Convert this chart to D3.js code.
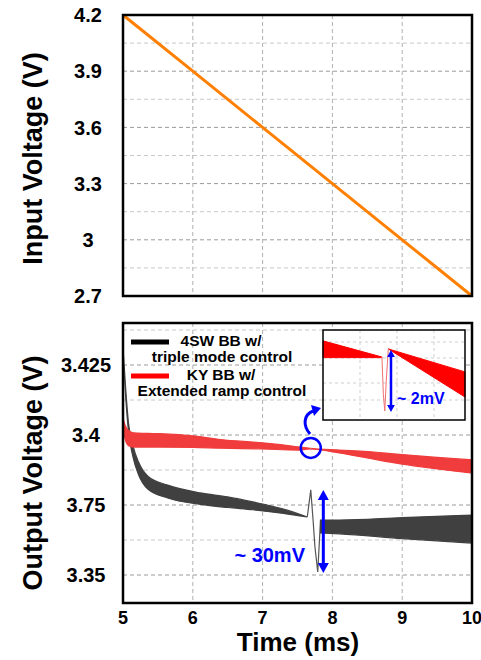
<!DOCTYPE html>
<html>
<head>
<meta charset="utf-8">
<script src="https://cdn.jsdelivr.net/npm/d3@7"></script>
<style>
  body { margin: 0; background: #fff; }
  svg { display: block; font-family: "Liberation Sans", Arial, sans-serif; font-weight: bold; }
</style>
</head>
<body>
<svg id="chart" width="481" height="660"></svg>
<script>
// ---- data ----
const timeTicks = [5, 6, 7, 8, 9, 10];
const inTicks = [2.7, 3.0, 3.3, 3.6, 3.9, 4.2];
const inTickLabels = ['2.7', '3', '3.3', '3.6', '3.9', '4.2'];
const inT = [5, 6, 7, 8, 9, 10];
const inV = [4.2, 3.9, 3.6, 3.3, 3.0, 2.7];

const outTicks = [3.35, 3.375, 3.4, 3.425];
const outTickLabels = ['3.35', '3.75', '3.4', '3.425'];

// 4SW BB w/ triple mode control (band before and after the step)
const blkT = [5.0, 5.04, 5.08, 5.14, 5.22, 5.36, 5.64, 6.11, 6.5, 6.86, 7.3, 7.64];
const blkHi = [3.4311, 3.4160, 3.4040, 3.3965, 3.3905, 3.3852, 3.3821, 3.3793, 3.3779, 3.3761, 3.3735, 3.3707];
const blkLo = [3.4300, 3.4130, 3.4010, 3.3925, 3.3860, 3.3806, 3.3775, 3.3752, 3.3741, 3.3733, 3.3720, 3.3707];
const spikeT = [7.64, 7.69, 7.72, 7.75, 7.79, 7.83];
const spikeV = [3.3707, 3.3804, 3.3707, 3.3600, 3.3511, 3.3696];
const blk2T = [7.83, 8.1, 9.0, 10.0];
const blk2Hi = [3.3696, 3.3696, 3.3705, 3.3714];
const blk2Lo = [3.3650, 3.3647, 3.3630, 3.3614];

// KY BB w/ Extended ramp control
const redT = [5.0, 5.03, 5.08, 5.15, 5.5, 6.0, 6.4, 7.0, 7.5, 7.68, 8.1, 8.5, 9.0, 9.5, 10.0];
const redHi = [3.4061, 3.4035, 3.4016, 3.4008, 3.4005, 3.3997, 3.3984, 3.3972, 3.3958, 3.3952, 3.3946, 3.3941, 3.3930, 3.3920, 3.3911];
const redLo = [3.4040, 3.3985, 3.3962, 3.3957, 3.3957, 3.3956, 3.3953, 3.3950, 3.3946, 3.3950, 3.3936, 3.3918, 3.3896, 3.3879, 3.3864];

// inset (zoom around the mode change), mV relative to band
const insT1 = [7.60, 7.683];
const insHi1 = [0.52, 0.0];
const insLo1 = [-0.02, -0.02];
const dipT = [7.683, 7.685, 7.687, 7.689, 7.692];
const dipV = [0.0, -1.2, -1.74, -0.8, 0.26];
const insT2 = [7.692, 7.80];
const insHi2 = [0.26, -0.48];
const insLo2 = [0.26, -1.29];

const legendNames = [['4SW BB w/', 'triple mode control'], ['KY BB w/', 'Extended ramp control']];
const legendColors = ['#000000', '#ff0000'];

// ---- layout ----
const L = 123, R = 472;
const top1 = 15, bot1 = 296;
const top2 = 323, bot2 = 603;

const svg = d3.select('#chart');

const x = d3.scaleLinear().domain([5, 10]).range([L, R]);
const y1 = d3.scaleLinear().domain([2.7, 4.2]).range([bot1, top1]);
const y2 = d3.scaleLinear().domain([3.34, 3.44]).range([bot2, top2]);

const drawGrid = (yScale, hVals, majors, yTop, yBot) => {
    const g = svg.append('g');
    hVals.forEach(v => {
        const isMajor = majors.some(m => Math.abs(m - v) < 1e-6);
        g.append('line')
            .attr('x1', L).attr('x2', R)
            .attr('y1', yScale(v)).attr('y2', yScale(v))
            .style('stroke', isMajor ? '#9a9a9a' : '#c8c8c8')
            .style('stroke-width', 1)
            .style('stroke-dasharray', '4,3');
    });
    [6, 7, 8, 9].forEach(t => {
        g.append('line')
            .attr('x1', x(t)).attr('x2', x(t))
            .attr('y1', yTop).attr('y2', yBot)
            .style('stroke', '#b0b0b0')
            .style('stroke-width', 1)
            .style('stroke-dasharray', '4,3');
    });
};

// ---- top panel ----
drawGrid(y1, d3.range(2.85, 4.1, 0.15), [3.0, 3.3, 3.6, 3.9], top1, bot1);

svg.append('path')
    .datum(inT.map((t, i) => [t, inV[i]]))
    .attr('d', d3.line().x(d => x(d[0])).y(d => y1(d[1])))
    .style('fill', 'none')
    .style('stroke', '#ff8000')
    .style('stroke-width', 3);

svg.append('rect')
    .attr('x', L).attr('y', top1)
    .attr('width', R - L).attr('height', bot1 - top1)
    .style('fill', 'none').style('stroke', '#000').style('stroke-width', 2.5);

svg.selectAll('.ytick1')
    .data(inTicks)
    .enter()
    .append('text')
    .attr('x', 88)
    .attr('y', d => y1(d))
    .attr('dy', '0.36em')
    .attr('text-anchor', 'middle')
    .style('font-size', '20px')
    .text((d, i) => inTickLabels[i]);

svg.append('text')
    .attr('transform', `translate(42,${(top1 + bot1) / 2 + 3}) rotate(-90)`)
    .attr('text-anchor', 'middle')
    .style('font-size', '27px')
    .text('Input Voltage (V)');

// ---- bottom panel ----
drawGrid(y2, d3.range(3.35, 3.44, 0.0125), outTicks, top2, bot2);

const area = d3.area()
    .curve(d3.curveMonotoneX)
    .x(d => x(d[0]))
    .y0(d => y2(d[2]))
    .y1(d => y2(d[1]));

const band = (ts, hi, lo, color) => {
    svg.append('path')
        .datum(ts.map((t, i) => [t, hi[i], lo[i]]))
        .attr('d', area)
        .style('fill', color)
        .style('stroke', color)
        .style('stroke-width', 1.2);
};

band(blkT, blkHi, blkLo, '#404040');
svg.append('path')
    .datum(spikeT.map((t, i) => [t, spikeV[i]]))
    .attr('d', d3.line().x(d => x(d[0])).y(d => y2(d[1])))
    .style('fill', 'none')
    .style('stroke', '#555')
    .style('stroke-width', 1.2);
band(blk2T, blk2Hi, blk2Lo, '#404040');
band(redT, redHi, redLo, '#f03c3c');

// small dip inside the circle
svg.append('line')
    .attr('x1', x(7.69)).attr('x2', x(7.69))
    .attr('y1', y2(3.3952)).attr('y2', y2(3.3945))
    .style('stroke', '#e08080').style('stroke-width', 1);

svg.append('rect')
    .attr('x', L).attr('y', top2)
    .attr('width', R - L).attr('height', bot2 - top2)
    .style('fill', 'none').style('stroke', '#000').style('stroke-width', 2.5);

svg.selectAll('.ytick2')
    .data(outTicks)
    .enter()
    .append('text')
    .attr('x', 86)
    .attr('y', d => y2(d))
    .attr('dy', '0.36em')
    .attr('text-anchor', 'middle')
    .style('font-size', '20px')
    .text((d, i) => outTickLabels[i]);

svg.selectAll('.xtick')
    .data(timeTicks)
    .enter()
    .append('text')
    .attr('x', d => x(d))
    .attr('y', 624)
    .attr('text-anchor', 'middle')
    .style('font-size', '18px')
    .text(d => d);

svg.append('text')
    .attr('x', 298).attr('y', 651)
    .attr('text-anchor', 'middle')
    .style('font-size', '26px')
    .text('Time (ms)');

svg.append('text')
    .attr('transform', `translate(42,${(top2 + bot2) / 2 + 10}) rotate(-90)`)
    .attr('text-anchor', 'middle')
    .style('font-size', '27px')
    .text('Output Voltage (V)');

// legend
legendNames.forEach((nm, i) => {
    const ly = 342 + i * 34;
    svg.append('line')
        .attr('x1', 131).attr('x2', 169)
        .attr('y1', ly).attr('y2', ly)
        .style('stroke', legendColors[i]).style('stroke-width', 5);
    svg.append('text')
        .attr('x', 221).attr('y', ly + 4)
        .attr('text-anchor', 'middle')
        .style('font-size', '15.5px')
        .text(nm[0]);
    svg.append('text')
        .attr('x', 222).attr('y', ly + 20)
        .attr('text-anchor', 'middle')
        .style('font-size', '15.5px')
        .text(nm[1]);
});

// ---- annotations ----
const blue = '#0000ff';
const dblArrow = (ax, ya, yb, w, head) => {
    svg.append('line')
        .attr('x1', ax).attr('x2', ax)
        .attr('y1', ya + head).attr('y2', yb - head)
        .style('stroke', blue).style('stroke-width', w);
    svg.append('path')
        .attr('d', `M${ax},${ya} L${ax - head * 0.55},${ya + head} L${ax + head * 0.55},${ya + head} Z`)
        .style('fill', blue);
    svg.append('path')
        .attr('d', `M${ax},${yb} L${ax - head * 0.55},${yb - head} L${ax + head * 0.55},${yb - head} Z`)
        .style('fill', blue);
};

dblArrow(x(7.87), 490, 573, 3, 10);
svg.append('text')
    .attr('x', 305).attr('y', 562)
    .attr('text-anchor', 'end')
    .style('font-size', '20px')
    .style('fill', blue)
    .text('~ 30mV');

svg.append('circle')
    .attr('cx', x(7.69)).attr('cy', y2(3.3954))
    .attr('r', 10)
    .style('fill', 'none').style('stroke', blue).style('stroke-width', 2.5);

svg.append('path')
    .attr('d', 'M310,434 C303,426 303,415 313,411')
    .style('fill', 'none').style('stroke', blue).style('stroke-width', 3);
svg.append('path')
    .attr('d', 'M321,408 L311,405 L314,416 Z')
    .style('fill', blue);

// inset
const iL = 323, iR = 465, iT = 330, iB = 420;
const xi = d3.scaleLinear().domain([7.6, 7.8]).range([iL, iR]);
const yi = d3.scaleLinear().domain([-2.03, 0.87]).range([iB, iT]);

svg.append('rect')
    .attr('x', iL).attr('y', iT).attr('width', iR - iL).attr('height', iB - iT)
    .style('fill', '#fff');
[360, 397, 434].forEach(gx => {
    svg.append('line')
        .attr('x1', gx).attr('x2', gx).attr('y1', iT).attr('y2', iB)
        .style('stroke', '#cfcfcf').style('stroke-dasharray', '3,3');
});
[342, 358, 383, 400].forEach(gy => {
    svg.append('line')
        .attr('x1', iL).attr('x2', iR).attr('y1', gy).attr('y2', gy)
        .style('stroke', '#cfcfcf').style('stroke-dasharray', '3,3');
});

const areaI = d3.area()
    .x(d => xi(d[0]))
    .y0(d => yi(d[2]))
    .y1(d => yi(d[1]));
[[insT1, insHi1, insLo1], [insT2, insHi2, insLo2]].forEach(s => {
    svg.append('path')
        .datum(s[0].map((t, i) => [t, s[1][i], s[2][i]]))
        .attr('d', areaI)
        .style('fill', '#ff0000').style('stroke', '#ff0000').style('stroke-width', 1);
});
svg.append('path')
    .datum(dipT.map((t, i) => [t, dipV[i]]))
    .attr('d', d3.line().x(d => xi(d[0])).y(d => yi(d[1])))
    .style('fill', 'none').style('stroke', '#f07070').style('stroke-width', 1);

svg.append('rect')
    .attr('x', iL).attr('y', iT).attr('width', iR - iL).attr('height', iB - iT)
    .style('fill', 'none').style('stroke', '#000').style('stroke-width', 1.5);

dblArrow(391, 350, 412, 2.5, 7);
svg.append('text')
    .attr('x', 397).attr('y', 404)
    .style('font-size', '16px')
    .style('fill', blue)
    .text('~ 2mV');
</script>
</body>
</html>
